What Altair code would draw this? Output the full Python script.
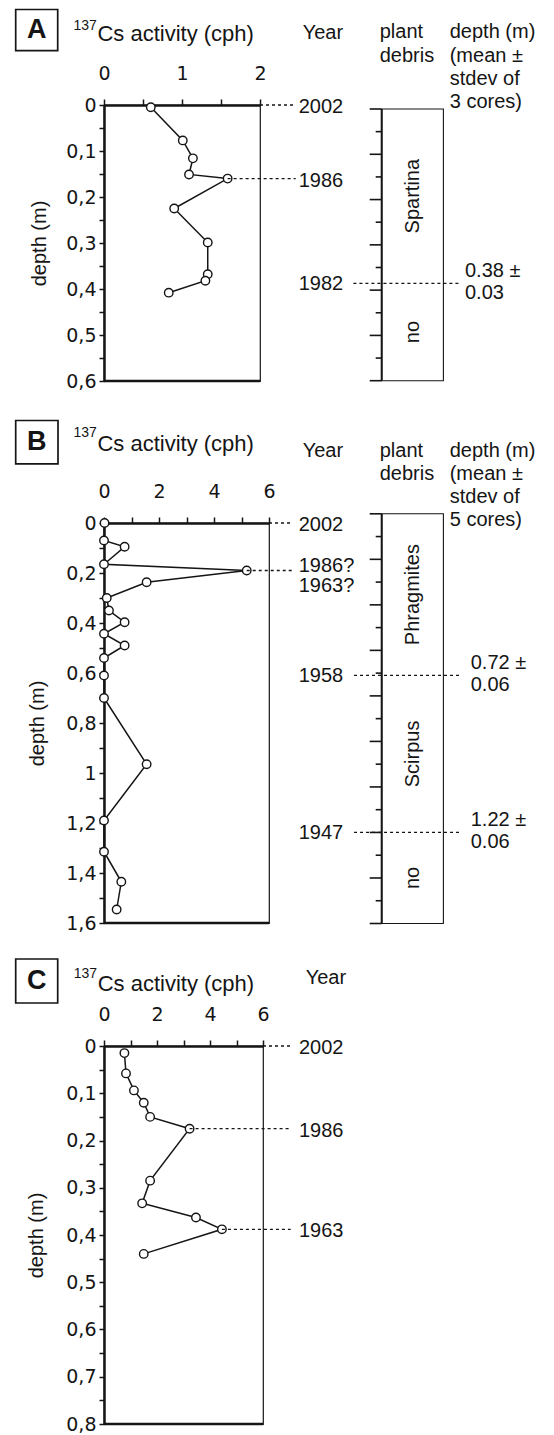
import altair as alt
import pandas as pd

FONT = "Liberation Sans"
TICKFONT = "DejaVu Sans"
INK = "#151515"

# ---------------- data ----------------
A_depth = [0.005, 0.077, 0.116, 0.151, 0.160, 0.225, 0.299, 0.368, 0.382, 0.408]
A_act = [0.60, 1.01, 1.14, 1.09, 1.585, 0.90, 1.33, 1.33, 1.30, 0.83]
A_xticks = [0, 0.5, 1, 1.5, 2]
A_xlabels = ["0", "1", "2"]
A_yticks = [0, 0.05, 0.1, 0.15, 0.2, 0.25, 0.3, 0.35, 0.4, 0.45, 0.5, 0.55, 0.6]
A_ylabels = ["0", "0,1", "0,2", "0,3", "0,4", "0,5", "0,6"]
A_years = ["2002", "1986"]
A_year_depth = [0.0, 0.16]
A_year_from = [2.0, 1.585]
A_col_ticks = [0, 0.05, 0.1, 0.15, 0.2, 0.25, 0.3, 0.35, 0.4, 0.45, 0.5, 0.55, 0.6]
A_col_major = [True, False, True, False, True, False, True, False, True, False, True, False, True]
A_zones = ["Spartina", "no"]
A_zone_top = [0.0, 0.385]
A_zone_bot = [0.385, 0.6]
A_bound_years = ["1982"]
A_bound_depth = [0.385]
A_bound_labels = ["0.38 ±\n0.03"]

B_depth = [0.0, 0.07, 0.095, 0.165, 0.19, 0.237, 0.30, 0.35, 0.397, 0.443, 0.49, 0.54,
           0.61, 0.70, 0.965, 1.19, 1.315, 1.435, 1.546]
B_act = [0.02, 0.0, 0.75, 0.0, 5.19, 1.55, 0.10, 0.18, 0.75, 0.0, 0.75, 0.0,
         0.0, 0.0, 1.55, 0.0, 0.0, 0.63, 0.46]
B_xticks = [0, 1, 2, 3, 4, 5, 6]
B_xlabels = ["0", "2", "4", "6"]
B_yticks = [0, 0.1, 0.2, 0.3, 0.4, 0.5, 0.6, 0.7, 0.8, 0.9, 1.0, 1.1, 1.2, 1.3, 1.4, 1.5, 1.6]
B_ylabels = ["0", "0,2", "0,4", "0,6", "0,8", "1", "1,2", "1,4", "1,6"]
B_years = ["2002", "1986?\n1963?"]
B_year_depth = [0.0, 0.19]
B_year_from = [6.0, 5.19]
B_col_ticks = [0, 0.1, 0.2, 0.3, 0.4, 0.5, 0.6, 0.7, 0.8, 0.9, 1.0, 1.1, 1.2, 1.3, 1.4, 1.5, 1.6, 1.7, 1.8]
B_col_major = [True, False, True, False, True, False, True, False, True, False,
               True, False, True, False, True, False, True, False, True]
B_zones = ["Phragmites", "Scirpus", "no"]
B_zone_top = [0.0, 0.71, 1.40]
B_zone_bot = [0.71, 1.40, 1.8]
B_bound_years = ["1958", "1947"]
B_bound_depth = [0.71, 1.40]
B_bound_labels = ["0.72 ±\n0.06", "1.22 ±\n0.06"]

C_depth = [0.015, 0.058, 0.094, 0.12, 0.15, 0.175, 0.285, 0.333, 0.363, 0.388, 0.44]
C_act = [0.77, 0.83, 1.13, 1.50, 1.74, 3.23, 1.74, 1.44, 3.47, 4.45, 1.50]
C_xticks = [0, 1, 2, 3, 4, 5, 6]
C_xlabels = ["0", "2", "4", "6"]
C_yticks = [0, 0.05, 0.1, 0.15, 0.2, 0.25, 0.3, 0.35, 0.4, 0.45, 0.5, 0.55, 0.6, 0.65, 0.7, 0.75, 0.8]
C_ylabels = ["0", "0,1", "0,2", "0,3", "0,4", "0,5", "0,6", "0,7", "0,8"]
C_years = ["2002", "1986", "1963"]
C_year_depth = [0.0, 0.175, 0.388]
C_year_from = [6.0, 3.23, 4.45]


def label_expr(labels):
    arr = "[" + ",".join("'" + s + "'" for s in labels) + "]"
    s = "replace(format(datum.value, '.2~f'), '.', ',')"
    return f"indexof({arr}, {s}) >= 0 ? {s} : ''"


def static_text(txt, x, y, size=20, align="left", baseline="middle", weight="normal",
                lh=23.3, font=FONT):
    return alt.Chart(pd.DataFrame({"t": [txt]})).mark_text(
        font=font, fontSize=size, fontWeight=weight, color=INK, align=align,
        baseline=baseline, lineBreak="\n", lineHeight=lh
    ).encode(x=alt.value(x), y=alt.value(y), text="t:N")


def make_panel(P):
    W, H = P["W"], P["H"]
    df = pd.DataFrame({"idx": list(range(len(P["depth"]))), "depth": P["depth"], "act": P["act"]})
    xs = alt.Scale(domain=P["xdom"], nice=False, zero=False)
    ys = alt.Scale(domain=P["ydom"], reverse=True, nice=False, zero=False)
    common = dict(labelFont=TICKFONT, labelFontSize=19, labelColor=INK, domainColor=INK,
                  domainWidth=2.5, tickColor=INK, tickWidth=1.5, grid=False,
                  labelFlush=False, labelOverlap=False)
    xax = alt.Axis(orient="top", values=P["xticks"], labelExpr=label_expr(P["xlabels"]),
                   title=None, labelPadding=16, tickSize=6, **common)
    yax = alt.Axis(orient="left", values=P["yticks"], labelExpr=label_expr(P["ylabels"]),
                   title="depth (m)", titleX=P["titleX"], titleY=H / 2, titleAngle=270,
                   titleAlign="center", titleBaseline="middle", titleFont=FONT,
                   titleFontSize=20, titleFontWeight="normal", titleColor=INK,
                   labelPadding=3, tickSize=5, **common)

    def X(f):
        return alt.X(f, scale=xs, axis=xax)

    def Y(f):
        return alt.Y(f, scale=ys, axis=yax)

    line = alt.Chart(df).mark_line(color=INK, strokeWidth=1.5).encode(
        x=X("act:Q"), y=Y("depth:Q"), order="idx:Q")
    pts = alt.Chart(df).mark_point(
        shape="circle", size=72, filled=True, fill="white", stroke=INK,
        strokeWidth=1.4, opacity=1
    ).encode(x=X("act:Q"), y=Y("depth:Q"))

    ydf = pd.DataFrame({"year": P["years"], "depth": P["year_depth"], "x0": P["year_from"]})
    yrule = alt.Chart(ydf).mark_rule(color=INK, strokeWidth=1.3, strokeDash=[3, 3]).encode(
        x=X("x0:Q"), x2=alt.value(P["yline_end"]), y=Y("depth:Q"))
    ytext1 = alt.Chart(ydf).transform_filter("indexof(datum.year, '\\n') < 0").mark_text(
        font=FONT, fontSize=20, color=INK, align="left", baseline="middle", dy=2
    ).encode(x=alt.value(P["ytext_x"]), y=Y("depth:Q"), text="year:N")
    ytext2 = alt.Chart(ydf).transform_filter("indexof(datum.year, '\\n') >= 0").mark_text(
        font=FONT, fontSize=20, color=INK, align="left", baseline="middle", dy=-5,
        lineBreak="\n", lineHeight=20
    ).encode(x=alt.value(P["ytext_x"]), y=Y("depth:Q"), text="year:N")

    bottom = alt.Chart(pd.DataFrame({"depth": [P["ydom"][1]]})).mark_rule(
        color=INK, strokeWidth=2.5
    ).encode(y=Y("depth:Q"))

    bx0, bx1, by0, by1 = P["box"]
    box = alt.Chart(pd.DataFrame({"t": [P["letter"]]})).mark_rect(
        fill="white", fillOpacity=0, stroke=INK, strokeWidth=1.7
    ).encode(x=alt.value(bx0), x2=alt.value(bx1), y=alt.value(by0), y2=alt.value(by1))
    letter = static_text(P["letter"], (bx0 + bx1) / 2, P["letter_y"], size=27,
                         align="center", weight="bold")
    sup = static_text("137", P["sup_xy"][0], P["sup_xy"][1], size=14)
    title = static_text("Cs activity (cph)", P["title_xy"][0], P["title_xy"][1], size=22)
    year_head = static_text("Year", P["year_head"][0], P["year_head"][1])

    layers = [line, pts, yrule, ytext1, ytext2, bottom, box, letter, sup, title, year_head]
    if "col" in P:
        C = P["col"]
        layers.append(static_text("plant\ndebris", C["plant_xy"][0], C["plant_xy"][1]))
        layers.append(static_text("depth (m)\n(mean ±\nstdev of\n" + C["ncores"],
                                  C["depth_xy"][0], C["depth_xy"][1]))
    plot_group = alt.layer(*layers)

    if "col" not in P:
        return plot_group.properties(width=W, height=H)

    C = P["col"]
    # column scale: map column depth onto its own pixel extent
    k = (C["bot_px"] - C["top_px"]) / C["max"]
    c0 = (P["T"] - C["top_px"]) / k
    c1 = C["max"] + (P["T"] + H - C["bot_px"]) / k
    cs = alt.Scale(domain=[c0, c1], reverse=True, nice=False, zero=False)
    cx0, cx1 = C["x0"], C["x1"]

    def CY(f):
        return alt.Y(f, scale=cs, axis=None)

    frame_df = pd.DataFrame({"top": [0.0], "bot": [C["max"]]})
    rect = alt.Chart(frame_df).mark_rect(fill="white", fillOpacity=0, stroke=INK,
                                         strokeWidth=1.1).encode(
        x=alt.value(cx0), x2=alt.value(cx1), y=CY("top:Q"), y2="bot:Q")
    left_edge = alt.Chart(frame_df).mark_rule(color=INK, strokeWidth=2).encode(
        x=alt.value(cx0), y=CY("top:Q"), y2="bot:Q")
    tdf = pd.DataFrame({"d": C["ticks"], "major": C["major"]})
    long_t = alt.Chart(tdf).transform_filter("datum.major").mark_rule(
        color=INK, strokeWidth=1.6).encode(
        x=alt.value(cx0 - 12), x2=alt.value(cx0), y=CY("d:Q"))
    short_t = alt.Chart(tdf).transform_filter("!datum.major").mark_rule(
        color=INK, strokeWidth=1.6).encode(
        x=alt.value(cx0 - 6), x2=alt.value(cx0), y=CY("d:Q"))
    zdf = pd.DataFrame({"name": C["zones"], "top": C["ztop"], "bot": C["zbot"]})
    ztext = alt.Chart(zdf).transform_calculate(mid="(datum.top + datum.bot) / 2").mark_text(
        font=FONT, fontSize=20, color=INK, angle=270, align="center", baseline="middle"
    ).encode(x=alt.value((cx0 + cx1) / 2), y=CY("mid:Q"), text="name:N")
    bdf = pd.DataFrame({"year": C["byears"], "d": C["bdepth"], "lab": C["blabels"]})
    brule = alt.Chart(bdf).mark_rule(color=INK, strokeWidth=1.3, strokeDash=[3, 3]).encode(
        x=alt.value(C["bline"][0]), x2=alt.value(C["bline"][1]), y=CY("d:Q"))
    byear = alt.Chart(bdf).mark_text(font=FONT, fontSize=20, color=INK, align="left",
                                     baseline="middle", dy=1).encode(
        x=alt.value(P["ytext_x"]), y=CY("d:Q"), text="year:N")
    blab = alt.Chart(bdf).mark_text(font=FONT, fontSize=20, color=INK, align="left",
                                    baseline="middle", lineBreak="\n", lineHeight=22,
                                    dy=-12).encode(
        x=alt.value(C["blab_x"]), y=CY("d:Q"), text="lab:N")
    col_group = alt.layer(rect, left_edge, long_t, short_t, ztext, brule, byear, blab)

    return alt.layer(plot_group, col_group).resolve_scale(y="independent").properties(
        width=W, height=H)


# layout (pixels, relative to each plot's top-left corner; plot lefts are aligned)
PA = dict(letter="A", depth=A_depth, act=A_act, T=104.3, W=156, H=276,
          xdom=[0, 2], ydom=[0, 0.6], xticks=A_xticks, xlabels=A_xlabels,
          yticks=A_yticks, ylabels=A_ylabels, titleX=-64.3,
          years=A_years, year_depth=A_year_depth, year_from=A_year_from,
          yline_end=191.7, ytext_x=194.7,
          box=(-88.3, -46.3, -95.5, -54.3), letter_y=-75.5, sup_xy=(-30.6, -79),
          title_xy=(-6.6, -71), year_head=(198.7, -72.3),
          col=dict(x0=277.7, x1=339.4, top_px=108.3, bot_px=380, max=0.6,
                   ticks=A_col_ticks, major=A_col_major, zones=A_zones, ztop=A_zone_top,
                   zbot=A_zone_bot, byears=A_bound_years, bdepth=A_bound_depth,
                   blabels=A_bound_labels, bline=(249.4, 355), blab_x=361,
                   plant_xy=(275.7, -72.6), depth_xy=(345.7, -72.6), ncores="3 cores)"))

PB = dict(letter="B", depth=B_depth, act=B_act, T=522.5, W=165, H=400,
          xdom=[0, 6], ydom=[0, 1.6], xticks=B_xticks, xlabels=B_xlabels,
          yticks=B_yticks, ylabels=B_ylabels, titleX=-67,
          years=B_years, year_depth=B_year_depth, year_from=B_year_from,
          yline_end=188.7, ytext_x=194.7,
          box=(-88.3, -46, -102.5, -59.2), letter_y=-80.8, sup_xy=(-30.6, -90.3),
          title_xy=(-6.6, -79.2), year_head=(198.7, -72.5),
          col=dict(x0=277.7, x1=339.4, top_px=513.3, bot_px=923, max=1.8,
                   ticks=B_col_ticks, major=B_col_major, zones=B_zones, ztop=B_zone_top,
                   zbot=B_zone_bot, byears=B_bound_years, bdepth=B_bound_depth,
                   blabels=B_bound_labels, bline=(250, 355), blab_x=366.7,
                   plant_xy=(275.7, -72.5), depth_xy=(345.7, -72.5), ncores="5 cores)"))

PC = dict(letter="C", depth=C_depth, act=C_act, T=1045, W=159, H=378,
          xdom=[0, 6], ydom=[0, 0.8], xticks=C_xticks, xlabels=C_xlabels,
          yticks=C_yticks, ylabels=C_ylabels, titleX=-67.3,
          years=C_years, year_depth=C_year_depth, year_from=C_year_from,
          yline_end=186.7, ytext_x=195,
          box=(-88.3, -46.3, -87, -43), letter_y=-65, sup_xy=(-30.3, -72),
          title_xy=(-6.3, -62), year_head=(201.7, -68.3))

panelA = make_panel(PA)
panelB = make_panel(PB)
panelC = make_panel(PC)

chart = alt.vconcat(alt.vconcat(panelA, panelB, spacing=27), panelC, spacing=23).properties(
    padding={"left": 6, "top": 0, "right": 4, "bottom": 0}, background="white"
).configure_view(stroke=INK, strokeWidth=1.2)

chart.save("out.html", embed_options={"renderer": "svg", "actions": False})
